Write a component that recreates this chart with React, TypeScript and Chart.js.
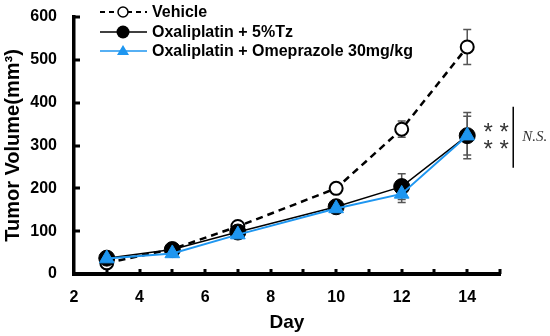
import React, { useEffect, useRef } from "react";
import { Chart, registerables } from "chart.js";

Chart.register(...registerables);

const days = [3, 5, 7, 10, 12, 14];
const vehicle = [26, 58, 111, 200, 338, 530];
const vehicleErr = [10, 6, 8, 8, 19, 41];
const tz = [37, 57, 98, 157, 204, 323];
const tzErr = [5, 6, 8, 8, 30, 54];
const ome = [36, 48, 92, 153, 187, 323];
const omeErr = [5, 5, 6, 7, 20, 45];
const seriesNames = ["Vehicle", "Oxaliplatin + 5%Tz", "Oxaliplatin + Omeprazole 30mg/kg"];
const xTickLabels = ["2", "4", "6", "8", "10", "12", "14"];
const yTickValues = [0, 100, 200, 300, 400, 500, 600];

const BLUE = "#1E96F0";
const FONT = "Liberation Sans, Arial, sans-serif";

const errorBarPlugin = {
  id: "errorBars",
  beforeDatasetsDraw(chart: any) {
    const ctx = chart.ctx;
    const xs = chart.scales.x;
    const ys = chart.scales.y;
    ctx.save();
    ctx.strokeStyle = "#555";
    ctx.lineWidth = 1.5;
    chart.data.datasets.forEach((ds: any) => {
      const errs = ds.errors || [];
      ds.data.forEach((p: any, i: number) => {
        const e = errs[i] || 0;
        const px = xs.getPixelForValue(p.x);
        const top = ys.getPixelForValue(p.y + e);
        const bot = ys.getPixelForValue(p.y - e);
        ctx.beginPath();
        ctx.moveTo(px, top);
        ctx.lineTo(px, bot);
        ctx.moveTo(px - 4, top);
        ctx.lineTo(px + 4, top);
        ctx.moveTo(px - 4, bot);
        ctx.lineTo(px + 4, bot);
        ctx.stroke();
      });
    });
    ctx.restore();
  },
};

const decorPlugin = {
  id: "decor",
  afterDraw(chart: any) {
    const ctx = chart.ctx;
    const xs = chart.scales.x;
    const ys = chart.scales.y;
    const area = chart.chartArea;
    ctx.save();
    // inward ticks
    ctx.strokeStyle = "#000";
    ctx.lineWidth = 3;
    ctx.beginPath();
    for (let v = 3; v <= 15; v++) {
      const px = Math.round(xs.getPixelForValue(v));
      ctx.moveTo(px, area.bottom);
      ctx.lineTo(px, area.bottom - 5);
    }
    yTickValues.forEach((v) => {
      if (v === 0) return;
      const py = Math.round(ys.getPixelForValue(v));
      ctx.moveTo(area.left, py);
      ctx.lineTo(area.left + 6, py);
    });
    ctx.stroke();

    // legend
    const lx0 = 100;
    const lx1 = 147;
    const mx = 123;
    const rows = [12, 32, 51];
    ctx.font = `bold 16px ${FONT}`;
    ctx.fillStyle = "#000";
    ctx.textBaseline = "middle";
    ctx.textAlign = "left";
    // vehicle
    ctx.strokeStyle = "#000";
    ctx.lineWidth = 2;
    ctx.setLineDash([5, 4]);
    ctx.beginPath();
    ctx.moveTo(lx0, rows[0]);
    ctx.lineTo(lx1, rows[0]);
    ctx.stroke();
    ctx.setLineDash([]);
    ctx.beginPath();
    ctx.arc(mx, rows[0], 5, 0, Math.PI * 2);
    ctx.fillStyle = "#fff";
    ctx.fill();
    ctx.lineWidth = 1.5;
    ctx.stroke();
    // tz
    ctx.lineWidth = 1.5;
    ctx.beginPath();
    ctx.moveTo(lx0, rows[1]);
    ctx.lineTo(lx1, rows[1]);
    ctx.stroke();
    ctx.beginPath();
    ctx.arc(mx, rows[1], 6.5, 0, Math.PI * 2);
    ctx.fillStyle = "#000";
    ctx.fill();
    // ome
    ctx.strokeStyle = BLUE;
    ctx.lineWidth = 1.5;
    ctx.beginPath();
    ctx.moveTo(lx0, rows[2]);
    ctx.lineTo(lx1, rows[2]);
    ctx.stroke();
    ctx.fillStyle = BLUE;
    ctx.beginPath();
    ctx.moveTo(mx, rows[2] - 6);
    ctx.lineTo(mx + 6, rows[2] + 4);
    ctx.lineTo(mx - 6, rows[2] + 4);
    ctx.closePath();
    ctx.fill();
    ctx.fillStyle = "#000";
    seriesNames.forEach((n, i) => ctx.fillText(n, 152, rows[i] + 1));

    // significance
    const x14 = xs.getPixelForValue(14);
    const yp = ys.getPixelForValue(tz[5]);
    ctx.fillStyle = "#333";
    ctx.font = `24px ${FONT}`;
    ctx.textAlign = "center";
    ctx.textBaseline = "alphabetic";
    [-9, 8].forEach((dy) => {
      ctx.fillText("*", x14 + 21, yp + dy + 13);
      ctx.fillText("*", x14 + 37, yp + dy + 13);
    });
    ctx.strokeStyle = "#000";
    ctx.lineWidth = 1.5;
    ctx.beginPath();
    ctx.moveTo(x14 + 46, yp - 29);
    ctx.lineTo(x14 + 46, yp + 32);
    ctx.stroke();
    ctx.fillStyle = "#333";
    ctx.font = `italic 15px "Liberation Serif", "Times New Roman", serif`;
    ctx.textAlign = "left";
    ctx.textBaseline = "middle";
    ctx.fillText("N.S.", x14 + 55, yp + 1);
    ctx.restore();
  },
};

export default function App() {
  const ref = useRef<HTMLCanvasElement | null>(null);
  useEffect(() => {
    if (!ref.current) return;
    const mk = (vals: number[]) => days.map((d, i) => ({ x: d, y: vals[i] }));
    const tickFont = { family: FONT, size: 16, weight: "bold" as const };
    const chart = new Chart(ref.current, {
      type: "line",
      data: {
        datasets: [
          {
            label: seriesNames[0],
            data: mk(vehicle),
            borderColor: "#000",
            borderWidth: 2.5,
            borderDash: [7, 5],
            pointStyle: "circle",
            pointRadius: 6.5,
            pointBackgroundColor: "#fff",
            pointBorderColor: "#000",
            pointBorderWidth: 2,
            order: 3,
            errors: vehicleErr,
          } as any,
          {
            label: seriesNames[1],
            data: mk(tz),
            borderColor: "#000",
            borderWidth: 1.5,
            pointStyle: "circle",
            pointRadius: 8,
            pointBackgroundColor: "#000",
            pointBorderColor: "#000",
            pointBorderWidth: 1,
            order: 2,
            errors: tzErr,
          } as any,
          {
            label: seriesNames[2],
            data: mk(ome),
            borderColor: BLUE,
            borderWidth: 2,
            pointStyle: "triangle",
            pointRadius: 8.5,
            pointBackgroundColor: BLUE,
            pointBorderColor: BLUE,
            pointBorderWidth: 1,
            order: 1,
            errors: omeErr,
          } as any,
        ],
      },
      options: {
        animation: false,
        responsive: false,
        maintainAspectRatio: false,
        devicePixelRatio: 1,
        layout: { padding: { top: 17, right: 50, left: 0, bottom: 0 } },
        plugins: { legend: { display: false }, tooltip: { enabled: false } },
        scales: {
          x: {
            type: "linear",
            min: 2,
            max: 15,
            afterFit: (s: any) => {
              s.height = 62;
              s.paddingLeft = 0;
              s.paddingRight = 0;
            },
            border: { display: true, color: "#000", width: 4 },
            grid: { display: false, drawTicks: false },
            ticks: {
              stepSize: 1,
              autoSkip: false,
              maxRotation: 0,
              padding: 14,
              color: "#000",
              font: tickFont,
              callback: (v: any) => {
                const s = String(v);
                return xTickLabels.includes(s) ? s : "";
              },
            },
            title: {
              display: true,
              text: "Day",
              color: "#000",
              font: { family: FONT, size: 19, weight: "bold" },
              padding: { top: 0, bottom: 2 },
            },
          },
          y: {
            min: 0,
            max: 600,
            afterFit: (s: any) => {
              s.width = 74;
              s.paddingTop = 0;
              s.paddingBottom = 0;
            },
            border: { display: true, color: "#000", width: 3.5 },
            grid: { display: false, drawTicks: false },
            ticks: {
              stepSize: 100,
              padding: 17,
              color: "#000",
              font: tickFont,
            },
            title: {
              display: true,
              text: "Tumor Volume(mm³)",
              color: "#000",
              font: { family: FONT, size: 20, weight: "bold" },
              padding: { top: 1, bottom: 0 },
            },
          },
        },
      } as any,
      plugins: [errorBarPlugin, decorPlugin],
    });
    return () => chart.destroy();
  }, []);
  return (
    <div style={{ position: "fixed", left: 0, top: 0, width: 550, height: 336, background: "#fff" }}>
      <canvas ref={ref} width={550} height={336} style={{ width: 550, height: 336 }} />
    </div>
  );
}
